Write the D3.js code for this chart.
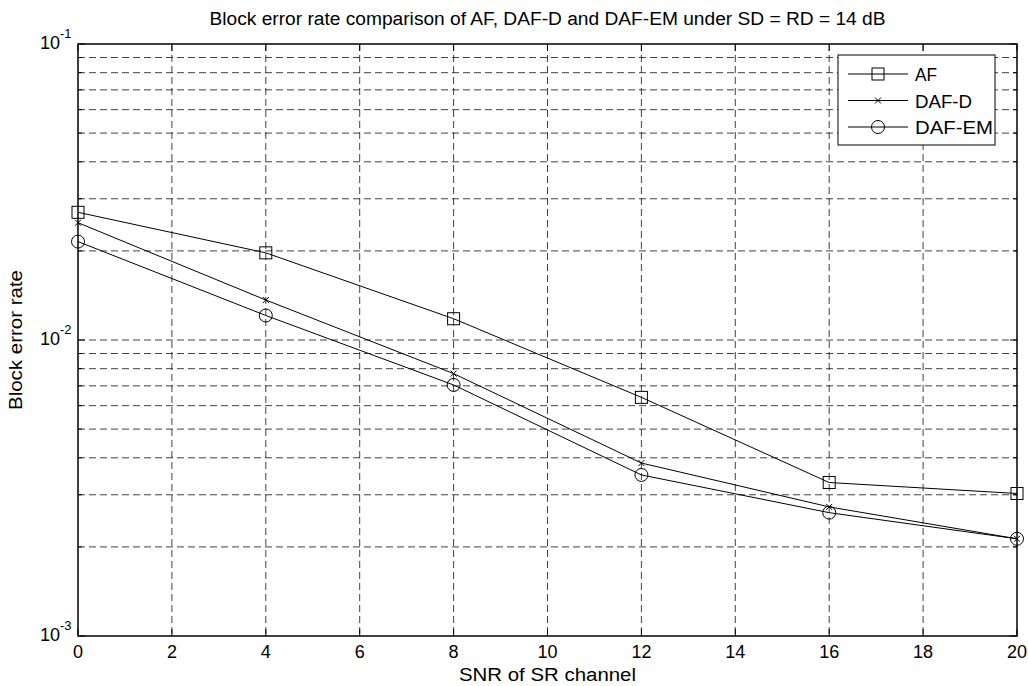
<!DOCTYPE html>
<html lang="en">
<head>
<meta charset="UTF-8">
<title>Block error rate comparison</title>
<script src="https://d3js.org/d3.v7.min.js"></script>
<style>
  body { margin: 0; background: #fff; }
  svg text { fill: #000; font-family: "Liberation Sans", Arial, sans-serif; }
</style>
</head>
<body>
<div id="chart"></div>
<script>
// data
const snr = [0, 4, 8, 12, 16, 20];
const afBler = [0.0270, 0.0197, 0.0118, 0.0064, 0.0033, 0.00303];
const dafdBler = [0.0249, 0.01365, 0.0077, 0.00384, 0.00273, 0.00213];
const dafemBler = [0.0215, 0.0121, 0.00705, 0.0035, 0.00261, 0.00213];
const xTicks = [0, 2, 4, 6, 8, 10, 12, 14, 16, 18, 20];
const yDecades = [-3, -2, -1];

const W = 1028, H = 686;
const margin = { top: 44, right: 11, bottom: 50, left: 78 };
const width = W - margin.left - margin.right;
const height = H - margin.top - margin.bottom;

const svg = d3.select("#chart").append("svg")
  .attr("width", W).attr("height", H);

const g = svg.append("g")
  .attr("transform", `translate(${margin.left},${margin.top})`);

const x = d3.scaleLinear().domain([0, 20]).range([0, width]);
const y = d3.scaleLog().domain([1e-3, 1e-1]).range([height, 0]);

// 1..9 in each decade
const yGrid = [];
[-3, -2].forEach(e => {
  for (let m = 1; m <= 9; m++) yGrid.push(m * Math.pow(10, e));
});
yGrid.push(1e-1);

// grid
g.selectAll(".hgrid").data(yGrid.filter(v => v > 1e-3 && v < 1e-1))
  .enter().append("line")
  .attr("x1", 0).attr("x2", width)
  .attr("y1", d => y(d)).attr("y2", d => y(d))
  .attr("stroke", "#222").attr("stroke-width", 1)
  .attr("stroke-dasharray", "7,4").attr("opacity", 0.85);

g.selectAll(".vgrid").data(xTicks.slice(1, -1))
  .enter().append("line")
  .attr("x1", d => x(d)).attr("x2", d => x(d))
  .attr("y1", 0).attr("y2", height)
  .attr("stroke", "#222").attr("stroke-width", 1)
  .attr("stroke-dasharray", "7,4").attr("opacity", 0.85);

// box
g.append("rect").attr("width", width).attr("height", height)
  .attr("fill", "none").attr("stroke", "#000").attr("stroke-width", 1.5);

// inward ticks
xTicks.forEach(t => {
  g.append("line").attr("x1", x(t)).attr("x2", x(t)).attr("y1", height).attr("y2", height - 7).attr("stroke", "#000");
  g.append("line").attr("x1", x(t)).attr("x2", x(t)).attr("y1", 0).attr("y2", 7).attr("stroke", "#000");
});
yGrid.forEach(v => {
  const major = Math.abs(Math.log10(v) - Math.round(Math.log10(v))) < 1e-9;
  const len = major ? 7 : 4;
  g.append("line").attr("x1", 0).attr("x2", len).attr("y1", y(v)).attr("y2", y(v)).attr("stroke", "#000");
  g.append("line").attr("x1", width).attr("x2", width - len).attr("y1", y(v)).attr("y2", y(v)).attr("stroke", "#000");
});

// x tick labels
g.selectAll(".xlab").data(xTicks).enter().append("text")
  .attr("x", d => x(d)).attr("y", height + 22)
  .attr("text-anchor", "middle").attr("font-size", 18)
  .text(d => d);

// y tick labels 10^e
yDecades.forEach(e => {
  const t = g.append("text").attr("x", -38).attr("y", y(Math.pow(10, e)) + 5)
    .attr("text-anchor", "start").attr("font-size", 18);
  t.append("tspan").text("10");
  t.append("tspan").attr("dy", -11).attr("font-size", 13).text(e);
});

// axis labels and title
svg.append("text").attr("x", margin.left + width / 2).attr("y", 681)
  .attr("text-anchor", "middle").attr("font-size", 18)
  .attr("textLength", 177).attr("lengthAdjust", "spacingAndGlyphs")
  .text("SNR of SR channel");

svg.append("text").attr("transform", `translate(22,${margin.top + height / 2}) rotate(-90)`)
  .attr("text-anchor", "middle").attr("font-size", 18)
  .attr("textLength", 140).attr("lengthAdjust", "spacingAndGlyphs")
  .text("Block error rate");

svg.append("text").attr("x", margin.left + width / 2).attr("y", 25)
  .attr("text-anchor", "middle").attr("font-size", 18)
  .attr("textLength", 676).attr("lengthAdjust", "spacingAndGlyphs")
  .text("Block error rate comparison of AF, DAF-D and DAF-EM under SD = RD = 14 dB");

// series
const series = [
  { name: "AF", values: afBler, marker: "square", tl: 22 },
  { name: "DAF-D", values: dafdBler, marker: "cross", tl: 57 },
  { name: "DAF-EM", values: dafemBler, marker: "circle", tl: 78 }
];

const line = d3.line().x((d, i) => x(snr[i])).y(d => y(d));

function drawMarker(sel, type, cx, cy) {
  if (type === "square") {
    sel.append("rect").attr("x", cx - 6).attr("y", cy - 6).attr("width", 12).attr("height", 12)
      .attr("fill", "none").attr("stroke", "#000").attr("stroke-width", 1);
  } else if (type === "circle") {
    sel.append("circle").attr("cx", cx).attr("cy", cy).attr("r", 6.5)
      .attr("fill", "none").attr("stroke", "#000").attr("stroke-width", 1);
  } else {
    sel.append("path").attr("d", `M${cx - 3},${cy - 3}L${cx + 3},${cy + 3}M${cx - 3},${cy + 3}L${cx + 3},${cy - 3}`)
      .attr("stroke", "#000").attr("stroke-width", 1);
  }
}

series.forEach(s => {
  g.append("path").datum(s.values).attr("d", line)
    .attr("fill", "none").attr("stroke", "#000").attr("stroke-width", 1);
  s.values.forEach((v, i) => drawMarker(g, s.marker, x(snr[i]), y(v)));
});

// legend
const lg = svg.append("g").attr("transform", "translate(838,55)");
lg.append("rect").attr("width", 157).attr("height", 90)
  .attr("fill", "#fff").attr("stroke", "#000").attr("stroke-width", 1);
series.forEach((s, i) => {
  const ly = 19 + i * 26.5;
  lg.append("line").attr("x1", 10).attr("x2", 70).attr("y1", ly).attr("y2", ly).attr("stroke", "#000");
  drawMarker(lg, s.marker, 40, ly);
  lg.append("text").attr("x", 77).attr("y", ly + 7).attr("font-size", 18)
    .attr("textLength", s.tl).attr("lengthAdjust", "spacingAndGlyphs").text(s.name);
});
</script>
</body>
</html>
